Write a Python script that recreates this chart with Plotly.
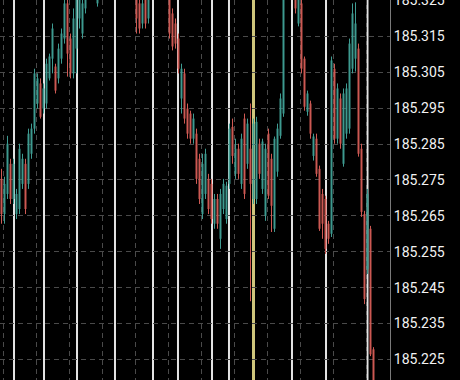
import plotly.graph_objects as go

# OHLC values (price, one bar per candle)
open_ = [
    185.2753, 185.2655, 185.2711, 185.2795, 185.2697, 185.2655, 185.2669, 185.2739, 185.2795, 185.2739,
    185.2823, 185.2893, 185.2963, 185.3019, 185.2949, 185.2963, 185.3033, 185.3088, 185.3066, 185.3033,
    185.3088, 185.3144, 185.3242, 185.3144, 185.3047, 185.3116, 185.3200, 185.3158, 185.3228, 185.3310,
    185.3282, 185.3330, 185.3242, 185.3310, 185.3350, 185.3320, 185.3370, 185.3400, 185.3350, 185.3310,
    185.3360, 185.3330, 185.3300, 185.3340, 185.3290, 185.3284, 185.3242, 185.3186, 185.3256, 185.3200,
    185.3284, 185.3320, 185.3290, 185.3340, 185.3310, 185.3280, 185.3284, 185.3214, 185.3186, 185.3144,
    185.2977, 185.3047, 185.2949, 185.2935, 185.2865, 185.2879, 185.2809, 185.2655, 185.2711, 185.2753,
    185.2739, 185.2628, 185.2697, 185.2586, 185.2669, 185.2641, 185.2739, 185.2898, 185.2767, 185.2837,
    185.2739, 185.2921, 185.2795, 185.2837, 185.2697, 185.2697, 185.2851, 185.2725, 185.2650, 185.2879,
    185.2809, 185.2614, 185.2773, 185.2873, 185.2935, 185.3270, 185.3310, 185.3275, 185.3270, 185.3186,
    185.3242, 185.3088, 185.2940, 185.2963, 185.2817, 185.2865, 185.2781, 185.2711, 185.2697, 185.2628,
    185.2600, 185.3060, 185.2865, 185.2977, 185.2795, 185.2879, 185.2893, 185.3060, 185.3088, 185.3116,
    185.2837, 185.2655, 185.2502, 185.2614, 185.2278,
]
high = [
    185.2781, 185.2759, 185.2873, 185.2809, 185.2809, 185.2725, 185.2851, 185.2823, 185.2809, 185.2893,
    185.2907, 185.3060, 185.3047, 185.3033, 185.3019, 185.3088, 185.3102, 185.3186, 185.3074, 185.3130,
    185.3172, 185.3256, 185.3270, 185.3158, 185.3228, 185.3284, 185.3298, 185.3270, 185.3312, 185.3330,
    185.3340, 185.3345, 185.3326, 185.3360, 185.3370, 185.3380, 185.3410, 185.3415, 185.3360, 185.3370,
    185.3370, 185.3340, 185.3350, 185.3350, 185.3300, 185.3298, 185.3256, 185.3270, 185.3270, 185.3298,
    185.3330, 185.3335, 185.3350, 185.3350, 185.3320, 185.3310, 185.3298, 185.3228, 185.3200, 185.3158,
    185.3074, 185.3060, 185.2963, 185.2943, 185.2935, 185.2893, 185.2823, 185.2823, 185.2837, 185.2767,
    185.2753, 185.2711, 185.2711, 185.2725, 185.2753, 185.2745, 185.2907, 185.2921, 185.2865, 185.2851,
    185.2879, 185.2935, 185.2921, 185.2963, 185.2921, 185.2926, 185.2865, 185.2865, 185.2851, 185.2893,
    185.2823, 185.2871, 185.2907, 185.2991, 185.3284, 185.3320, 185.3320, 185.3310, 185.3284, 185.3270,
    185.3256, 185.3094, 185.2999, 185.2971, 185.2879, 185.2879, 185.2790, 185.2725, 185.2706, 185.2636,
    185.3094, 185.3074, 185.3019, 185.2991, 185.3005, 185.3019, 185.3144, 185.3242, 185.3245, 185.3130,
    185.2851, 185.2664, 185.2725, 185.2622, 185.2284,
]
low = [
    185.2628, 185.2628, 185.2697, 185.2683, 185.2683, 185.2641, 185.2655, 185.2725, 185.2655, 185.2725,
    185.2809, 185.2879, 185.2949, 185.2921, 185.2935, 185.2949, 185.3027, 185.3047, 185.2991, 185.3019,
    185.3074, 185.3130, 185.3038, 185.3033, 185.3033, 185.3047, 185.3172, 185.3144, 185.3214, 185.3275,
    185.3270, 185.3280, 185.3233, 185.3300, 185.3310, 185.3310, 185.3360, 185.3340, 185.3300, 185.3300,
    185.3320, 185.3290, 185.3290, 185.3280, 185.3260, 185.3158, 185.3158, 185.3172, 185.3172, 185.3186,
    185.3270, 185.3280, 185.3280, 185.3300, 185.3270, 185.3270, 185.3144, 185.3111, 185.3116, 185.3047,
    185.2935, 185.2907, 185.2865, 185.2851, 185.2851, 185.2739, 185.2683, 185.2641, 185.2697, 185.2655,
    185.2628, 185.2614, 185.2614, 185.2558, 185.2655, 185.2628, 185.2725, 185.2795, 185.2753, 185.2753,
    185.2725, 185.2697, 185.2781, 185.2412, 185.2683, 185.2683, 185.2753, 185.2711, 185.2636, 185.2697,
    185.2605, 185.2605, 185.2759, 185.2865, 185.2926, 185.3265, 185.3265, 185.3260, 185.3214, 185.3178,
    185.3047, 185.2943, 185.2929, 185.2865, 185.2804, 185.2759, 185.2608, 185.2586, 185.2544, 185.2572,
    185.2591, 185.2851, 185.2851, 185.2837, 185.2787, 185.2865, 185.2879, 185.3047, 185.3052, 185.2815,
    185.2647, 185.2404, 185.2488, 185.2259, 185.2139,
]
close = [
    185.2655, 185.2739, 185.2851, 185.2697, 185.2795, 185.2711, 185.2837, 185.2809, 185.2669, 185.2879,
    185.2893, 185.3047, 185.3033, 185.2926, 185.3005, 185.3074, 185.3094, 185.3172, 185.2999, 185.3116,
    185.3158, 185.3242, 185.3102, 185.3047, 185.3200, 185.3256, 185.3284, 185.3242, 185.3298, 185.3285,
    185.3330, 185.3290, 185.3312, 185.3350, 185.3320, 185.3370, 185.3400, 185.3350, 185.3310, 185.3360,
    185.3330, 185.3300, 185.3340, 185.3290, 185.3270, 185.3200, 185.3172, 185.3242, 185.3186, 185.3284,
    185.3320, 185.3290, 185.3340, 185.3310, 185.3280, 185.3300, 185.3158, 185.3122, 185.3130, 185.3060,
    185.3060, 185.2921, 185.2879, 185.2865, 185.2921, 185.2753, 185.2697, 185.2795, 185.2823, 185.2669,
    185.2641, 185.2697, 185.2628, 185.2711, 185.2739, 185.2734, 185.2893, 185.2817, 185.2837, 185.2767,
    185.2865, 185.2711, 185.2907, 185.2739, 185.2907, 185.2912, 185.2767, 185.2857, 185.2837, 185.2706,
    185.2678, 185.2865, 185.2893, 185.2977, 185.3256, 185.3310, 185.3275, 185.3300, 185.3228, 185.3256,
    185.3060, 185.2954, 185.2991, 185.2879, 185.2871, 185.2767, 185.2614, 185.2628, 185.2558, 185.2586,
    185.3083, 185.2865, 185.3005, 185.2851, 185.2991, 185.3005, 185.3130, 185.3214, 185.3186, 185.2823,
    185.2661, 185.2418, 185.2711, 185.2264, 185.2153,
]
bar_index = list(range(len(open_)))

price_ticks = [185.225, 185.235, 185.245, 185.255, 185.265, 185.275,
               185.285, 185.295, 185.305, 185.315, 185.325]
price_labels = ["185.225", "185.235", "185.245", "185.255", "185.265", "185.275",
                "185.285", "185.295", "185.305", "185.315", "185.325"]

# period separator bars (bar index) and one highlighted marker bar
separator_bars = [4.17, 14.17, 25.17, 37.83, 50.5, 58.83, 70.17, 75.83, 96.83, 108.17, 122.0]
marker_bars = [84.0]

TEAL = "#3f9c92"
RED = "#cf5a54"
GRID = "#4a4a4a"

fig = go.Figure(go.Candlestick(
    x=bar_index, open=open_, high=high, low=low, close=close,
    increasing=dict(line=dict(color=TEAL, width=1), fillcolor=TEAL),
    decreasing=dict(line=dict(color=RED, width=1), fillcolor=RED),
    whiskerwidth=0, showlegend=False, hoverinfo="skip",
))

for xb in separator_bars:
    fig.add_shape(type="line", xref="x", yref="paper", x0=xb, x1=xb, y0=0, y1=1,
                  line=dict(color="#e4e4e4", width=2), layer="between")
for xb in marker_bars:
    fig.add_shape(type="line", xref="x", yref="paper", x0=xb, x1=xb, y0=0, y1=1,
                  line=dict(color="#cfc67c", width=3), layer="between")

fig.update_layout(
    width=460, height=380,
    margin=dict(l=0, r=70, t=0, b=0, autoexpand=False),
    paper_bgcolor="black", plot_bgcolor="black",
    showlegend=False, boxgap=0.55,
)
fig.update_xaxes(
    range=[-0.5, 129.5], showticklabels=False, ticks="",
    showgrid=True, gridcolor=GRID, gridwidth=1, griddash="5px,4px",
    tick0=0.5, dtick=11, zeroline=False, showline=False,
    rangeslider_visible=False, fixedrange=True, automargin=False,
)
fig.update_yaxes(
    side="right", range=[185.21925, 185.32515],
    tickvals=price_ticks, ticktext=price_labels, ticks="",
    showgrid=True, gridcolor=GRID, gridwidth=1, griddash="5px,4px",
    showline=True, linecolor="#7a7a7a", linewidth=1, zeroline=False,
    tickfont=dict(family="Roboto", size=14, color="#f2f2f2"),
    ticklabeloverflow="allow", automargin=False,
    fixedrange=True,
)

fig.write_html("out.html", config={"displayModeBar": False})
